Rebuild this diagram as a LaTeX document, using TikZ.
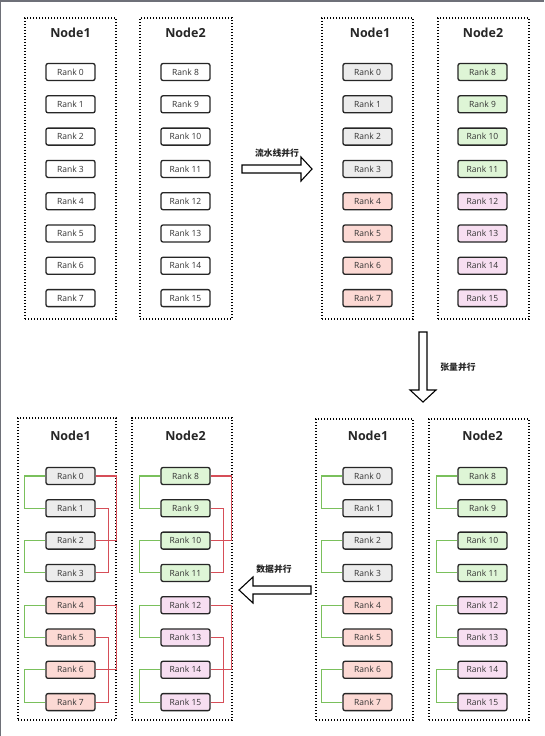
\documentclass[tikz,border=0pt]{standalone}
\usepackage{fontspec}
\setmainfont{Open Sans}
\newfontfamily\cjk{Noto Sans CJK SC}
\definecolor{fgray}{RGB}{236,236,236}
\definecolor{fred}{RGB}{252,217,212}
\definecolor{fgreen}{RGB}{222,245,214}
\definecolor{fpink}{RGB}{247,222,241}
\definecolor{lgreen}{RGB}{122,192,92}
\definecolor{lred}{RGB}{214,78,88}
\definecolor{frameline}{RGB}{110,112,120}
\tikzset{
  rankbox/.style={draw=black!85, line width=1.3pt, rounded corners=2pt,
    minimum width=49pt, minimum height=17pt, inner sep=0pt,
    font=\fontsize{8.5}{10}\selectfont, text=black!80},
  panel/.style={draw=black, line width=1.3pt, dash pattern=on 1.3pt off 1.7pt,
    inner sep=0pt},
  paneltitle/.style={font=\fontsize{12.5}{14}\selectfont\bfseries, text=black!85},
  arrowshape/.style={draw=black, line width=1.1pt, fill=white},
  arrowlabel/.style={font=\cjk\bfseries\fontsize{8.8}{10}\selectfont, text=black!85},
  glink/.style={draw=lgreen, line width=1.1pt},
  rlink/.style={draw=lred, line width=1.1pt},
}
\begin{document}
\begin{tikzpicture}[x=1pt,y=-1pt]
\useasboundingbox (0,0) rectangle (544,736);
\fill[white] (0,0) rectangle (544,736);
\draw[frameline, line width=2pt] (0,736) -- (0,1) -- (544,1);

% ---------- panels ----------
\node[panel, minimum width=91pt, minimum height=301pt] (p1) at (70.5,168.5) {};
\node[panel, minimum width=92pt, minimum height=301pt] (p2) at (186,168.5) {};
\node[panel, minimum width=91pt, minimum height=301pt] (p3) at (367.5,168.5) {};
\node[panel, minimum width=91pt, minimum height=301pt] (p4) at (483.5,168.5) {};
\node[panel, minimum width=97pt, minimum height=301pt] (p5) at (364.5,569.5) {};
\node[panel, minimum width=100pt, minimum height=301pt] (p6) at (479,569.5) {};
\node[panel, minimum width=98pt, minimum height=302pt] (p7) at (67,569) {};
\node[panel, minimum width=100pt, minimum height=302pt] (p8) at (182,569) {};

% ---------- titles ----------
\node[paneltitle] (t1) at (70.5,33) {Node1};
\node[paneltitle] (t2) at (185.5,33) {Node2};
\node[paneltitle] (t3) at (370,33) {Node1};
\node[paneltitle] (t4) at (483,33) {Node2};
\node[paneltitle] (t5) at (368,436) {Node1};
\node[paneltitle] (t6) at (482.5,436) {Node2};
\node[paneltitle] (t7) at (70.5,436) {Node1};
\node[paneltitle] (t8) at (185.5,436) {Node2};

% ---------- rank boxes ----------
\foreach \i in {0,...,7}{
  \pgfmathtruncatemacro{\j}{\i+8}
  \pgfmathsetmacro{\yt}{72+32.3*\i}
  \pgfmathsetmacro{\yb}{476+32.3*\i}
  \ifnum\i<4
    \def\fa{fgray}\def\fb{fgreen}
  \else
    \def\fa{fred}\def\fb{fpink}
  \fi
  % top-left (plain)
  \node[rankbox, fill=white] (a\i) at (70.5,\yt) {Rank \i};
  \node[rankbox, fill=white] (a\j) at (185.5,\yt) {Rank \j};
  % top-right
  \node[rankbox, fill=\fa] (b\i) at (367.5,\yt) {Rank \i};
  \node[rankbox, fill=\fb] (b\j) at (482.5,\yt) {Rank \j};
  % bottom-right
  \node[rankbox, fill=\fa] (c\i) at (367.5,\yb) {Rank \i};
  \node[rankbox, fill=\fb] (c\j) at (482.5,\yb) {Rank \j};
  % bottom-left
  \node[rankbox, fill=\fa] (d\i) at (70.5,\yb) {Rank \i};
  \node[rankbox, fill=\fb] (d\j) at (185.5,\yb) {Rank \j};
}

% ---------- green links (tensor parallel pairs) ----------
\foreach \a/\b in {0/1,2/3,4/5,6/7,8/9,10/11,12/13,14/15}{
  \draw[glink] (c\a.west) -- ++(-21,0) |- (c\b.west);
  \draw[glink] (d\a.west) -- ++(-21,0) |- (d\b.west);
}
% ---------- red links (data parallel) ----------
\foreach \a/\b in {0/2,4/6,8/10,12/14}{
  \draw[rlink] (d\a.east) -- ++(21,0) |- (d\b.east);
}
\foreach \a/\b in {1/3,5/7,9/11,13/15}{
  \draw[rlink] (d\a.east) -- ++(13,0) |- (d\b.east);
}

% ---------- block arrows ----------
\draw[arrowshape] (242,165) -- (301,165) -- (301,157) -- (312,169) -- (301,181)
  -- (301,173) -- (242,173) -- cycle;
\node[arrowlabel] (l1) at (277,153) {流水线并行};

\draw[arrowshape] (419,332) -- (427,332) -- (427,390) -- (436,390) -- (423,402)
  -- (410,390) -- (419,390) -- cycle;
\node[arrowlabel] (l2) at (458,367) {张量并行};

\draw[arrowshape] (311,586) -- (253,586) -- (253,577) -- (239,590) -- (253,603)
  -- (253,594) -- (311,594) -- cycle;
\node[arrowlabel] (l3) at (274,569) {数据并行};
\end{tikzpicture}
\end{document}
